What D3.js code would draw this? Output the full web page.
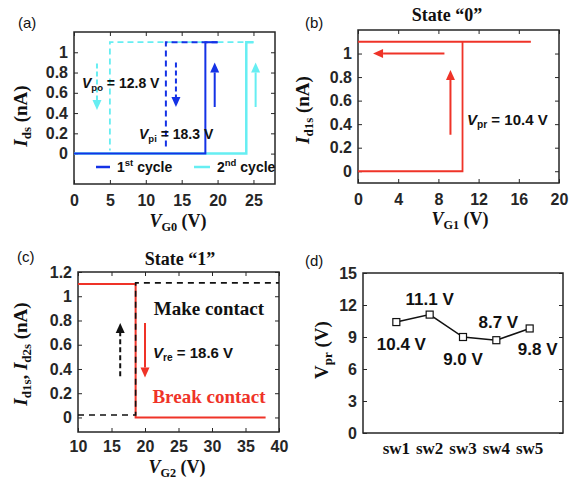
<!DOCTYPE html>
<html>
<head>
<meta charset="utf-8">
<script src="https://cdn.jsdelivr.net/npm/d3@7"></script>
<style>
body{margin:0;background:#fff}
</style>
</head>
<body>
<div id="chart"></div>
<script>
// ---- data ----
// (a) two pull-in / pull-out cycles
var aTicksX = [0,5,10,15,20,25];
var aTicksY = [0,0.2,0.4,0.6,0.8,1];
var cycle1Up = [[0,0],[18.3,0],[18.3,1.1],[20,1.1]];
var cycle1Down = [[20,1.1],[12.8,1.1],[12.8,0.05]];
var cycle2Up = [[0,0],[24,0],[24,1.1],[25,1.1]];
var cycle2Down = [[25,1.1],[5,1.1],[5,0.03]];

// (b) state "0"
var bTicksX = [0,4,8,12,16,20];
var bTicksY = [0,0.2,0.4,0.6,0.8,1];
var bRise = [[0,0],[10.4,0],[10.4,1.1]];
var bHold = [[0,1.1],[17.2,1.1]];

// (c) state "1"
var cTicksX = [10,15,20,25,30,35,40];
var cTicksY = [0,0.2,0.4,0.6,0.8,1,1.2];
var cBreak = [[10,1.1],[18.6,1.1],[18.6,0],[38,0]];
var cMake = [[10,0.02],[18.6,0.02],[18.6,1.11],[40,1.11]];

// (d) Vpr of five switches
var switches = ["sw1","sw2","sw3","sw4","sw5"];
var vpr = [10.4,11.1,9.0,8.7,9.8];
var dTicksY = [0,3,6,9,12,15];

var blue = "#1432e6", cyan = "#66eef2", red = "#ef3328", ink = "#262626";
var sans = "'Liberation Sans', Arial, sans-serif";
var serif = "'Liberation Serif', 'Times New Roman', serif";

var svg = d3.select("#chart").append("svg")
	.attr("width",584)
	.attr("height",485);

// text with sub/superscripts, parts = [{t, it, sub, sup}]
function rich(sel, parts, size) {
	var shift = 0;
	parts.forEach(function(p){
		var target = p.sub ? size*0.22 : (p.sup ? -size*0.4 : 0);
		var ts = sel.append("tspan").text(p.t).attr("dy", target - shift);
		shift = target;
		if (p.sub || p.sup) ts.style("font-size", (size*0.68)+"px");
		if (p.it) ts.style("font-style","italic");
	});
	return sel;
}

function label(x, y, parts, opt) {
	opt = opt || {};
	var size = opt.size || 14;
	var t = svg.append("text")
		.attr("x",x).attr("y",y)
		.style("font-family", opt.font || sans)
		.style("font-weight", opt.weight || "bold")
		.style("font-size", size+"px")
		.attr("fill", opt.color || "#111")
		.attr("text-anchor", opt.anchor || "start");
	if (opt.rotate) {
		t.attr("x",0).attr("y",0)
			.attr("transform","translate("+x+","+y+") rotate(-90)");
	}
	return rich(t, parts, size);
}

function panel(f, xDom, yDom, xTicks, yTicks, pad) {
	var x = d3.scaleLinear().domain(xDom).range([f.l, f.r]);
	var y = d3.scaleLinear().domain(yDom).range([f.b, f.t]);
	var g = svg.append("g");

	function styleAxis(a) {
		a.select(".domain").remove();
		a.selectAll("line").attr("stroke", ink);
		a.selectAll("text")
			.style("font-family", sans)
			.style("font-weight","bold")
			.style("font-size","16px")
			.attr("fill", ink);
	}
	if (xTicks) {
		var bx = g.append("g").attr("transform","translate(0,"+f.b+")")
			.call(d3.axisBottom(x).tickValues(xTicks).tickSize(-4).tickPadding(pad || 11).tickFormat(d3.format("")));
		styleAxis(bx);
		var tx = g.append("g").attr("transform","translate(0,"+f.t+")")
			.call(d3.axisTop(x).tickValues(xTicks).tickSize(-4).tickFormat(""));
		styleAxis(tx);
	}
	var ly = g.append("g").attr("transform","translate("+f.l+",0)")
		.call(d3.axisLeft(y).tickValues(yTicks).tickSize(-4).tickPadding(6).tickFormat(d3.format("")));
	styleAxis(ly);
	var ry = g.append("g").attr("transform","translate("+f.r+",0)")
		.call(d3.axisRight(y).tickValues(yTicks).tickSize(-4).tickFormat(""));
	styleAxis(ry);

	g.append("rect")
		.attr("x",f.l).attr("y",f.t)
		.attr("width",f.r-f.l).attr("height",f.b-f.t)
		.attr("fill","none").attr("stroke",ink).attr("stroke-width",1.5);

	var line = d3.line().x(function(d){ return x(d[0]); }).y(function(d){ return y(d[1]); });
	return {g:g, x:x, y:y, line:line};
}

function path(p, data, color, w, dash) {
	p.g.append("path")
		.datum(data)
		.attr("d", p.line)
		.attr("fill","none")
		.attr("stroke",color)
		.attr("stroke-width",w)
		.attr("stroke-dasharray", dash || null);
}

// arrow from (x1,y1) to (x2,y2) in data units, head at the end
function arrow(p, x1, y1, x2, y2, color, dash) {
	var px1 = p.x(x1), py1 = p.y(y1), px2 = p.x(x2), py2 = p.y(y2);
	var dx = px2-px1, dy = py2-py1, len = Math.sqrt(dx*dx+dy*dy);
	var ux = dx/len, uy = dy/len, hl = 10, hw = 4.5;
	var bx = px2-ux*hl, by = py2-uy*hl;
	p.g.append("line")
		.attr("x1",px1).attr("y1",py1).attr("x2",bx).attr("y2",by)
		.attr("stroke",color).attr("stroke-width",2)
		.attr("stroke-dasharray", dash || null);
	p.g.append("path")
		.attr("d","M"+px2+","+py2+"L"+(bx-uy*hw)+","+(by+ux*hw)+"L"+(bx+uy*hw)+","+(by-ux*hw)+"Z")
		.attr("fill",color);
}

// ---- (a) ----
var pa = panel({l:74,r:275,t:32,b:184}, [0,28], [-0.3,1.2], aTicksX, aTicksY);
path(pa, cycle2Down, cyan, 1.8, "6,4");
path(pa, cycle2Up, cyan, 2.5);
path(pa, cycle1Down, blue, 2, "6,4");
path(pa, cycle1Up, blue, 2);
arrow(pa, 3.2, 0.89, 3.2, 0.43, cyan, "5,3");
arrow(pa, 14.2, 0.9, 14.2, 0.46, blue, "5,3");
arrow(pa, 19.6, 0.46, 19.6, 0.9, blue);
arrow(pa, 25.3, 0.46, 25.3, 0.9, cyan);
label(82, 88, [{t:"V",it:true},{t:"po",sub:true},{t:" = 12.8 V"}], {size:14});
label(139, 139, [{t:"V",it:true},{t:"pi",sub:true},{t:" = 18.3 V"}], {size:14});
// legend
pa.g.append("line").attr("x1",96).attr("x2",110).attr("y1",167).attr("y2",167)
	.attr("stroke",blue).attr("stroke-width",2.5);
label(117, 172, [{t:"1"},{t:"st",sup:true},{t:" cycle"}], {size:14});
pa.g.append("line").attr("x1",194).attr("x2",210).attr("y1",167).attr("y2",167)
	.attr("stroke",cyan).attr("stroke-width",2.5);
label(217, 172, [{t:"2"},{t:"nd",sup:true},{t:" cycle"}], {size:14});
label(178, 227, [{t:"V",it:true},{t:"G0",sub:true},{t:" (V)"}], {font:serif,size:18,anchor:"middle"});
label(27, 116, [{t:"I",it:true},{t:"ds",sub:true},{t:" (nA)"}], {font:serif,size:19,anchor:"middle",rotate:true});
label(18, 28, [{t:"(a)"}], {weight:"normal",size:15});

// ---- (b) ----
var pb = panel({l:358,r:559,t:30,b:183}, [0,20], [-0.1,1.2], bTicksX, bTicksY);
path(pb, bHold, red, 1.8);
path(pb, bRise, red, 1.8);
arrow(pb, 8.6, 1, 1.5, 1, red);
arrow(pb, 9.2, 0.31, 9.2, 0.86, red);
label(467, 125, [{t:"V",it:true},{t:"pr",sub:true},{t:" = 10.4 V"}], {size:15});
label(460, 225, [{t:"V",it:true},{t:"G1",sub:true},{t:" (V)"}], {font:serif,size:18,anchor:"middle"});
label(309, 110, [{t:"I",it:true},{t:"d1s",sub:true},{t:" (nA)"}], {font:serif,size:19,anchor:"middle",rotate:true});
label(447, 21, [{t:"State \u201c0\u201d"}], {font:serif,size:18,anchor:"middle"});
label(305, 28, [{t:"(b)"}], {weight:"normal",size:15});

// ---- (c) ----
var pc = panel({l:78,r:279,t:272,b:432}, [10,40], [-0.12,1.2], cTicksX, cTicksY, 9);
path(pc, cBreak, red, 2);
path(pc, cMake, "#111", 1.6, "6,5");
arrow(pc, 16.3, 0.34, 16.3, 0.78, "#111", "5,3");
arrow(pc, 20, 0.78, 20, 0.33, red);
label(209, 315, [{t:"Make contact"}], {font:serif,size:19,anchor:"middle"});
label(209, 403, [{t:"Break contact"}], {font:serif,size:19,anchor:"middle",color:red});
label(153, 358, [{t:"V",it:true},{t:"re",sub:true},{t:" = 18.6 V"}], {size:15});
label(177, 473, [{t:"V",it:true},{t:"G2",sub:true},{t:" (V)"}], {font:serif,size:18,anchor:"middle"});
label(27, 354, [{t:"I",it:true},{t:"d1s",sub:true},{t:", "},{t:"I",it:true},{t:"d2s",sub:true},{t:" (nA)"}], {font:serif,size:19,anchor:"middle",rotate:true});
label(180, 265, [{t:"State \u201c1\u201d"}], {font:serif,size:18,anchor:"middle"});
label(17, 262, [{t:"(c)"}], {weight:"normal",size:15});

// ---- (d) ----
var pd = panel({l:363,r:563,t:273,b:433}, [0,6], [0,15], null, dTicksY);
var xd = d3.scalePoint().domain(switches).range([pd.x(1), pd.x(5)]);
pd.g.selectAll(".swl").data(switches).enter().append("text")
	.attr("class","swl")
	.attr("x",function(d){ return xd(d); })
	.attr("y",454)
	.attr("text-anchor","middle")
	.style("font-family",serif).style("font-weight","bold").style("font-size","17px")
	.attr("fill","#111")
	.text(function(d){ return d; });
var dLine = d3.line().x(function(d,i){ return xd(switches[i]); }).y(function(d){ return pd.y(d); });
pd.g.append("path").datum(vpr).attr("d",dLine)
	.attr("fill","none").attr("stroke","#111").attr("stroke-width",1.5);
pd.g.selectAll(".mk").data(vpr).enter().append("rect")
	.attr("class","mk")
	.attr("x",function(d,i){ return xd(switches[i])-3.5; })
	.attr("y",function(d){ return pd.y(d)-3.5; })
	.attr("width",7).attr("height",7)
	.attr("fill","#fff").attr("stroke","#111").attr("stroke-width",1.2);
// value labels: offset from each point (dx, dy in px)
var dLabelOffset = [[5,28],[0,-10],[0,28],[2,-12],[8,27]];
vpr.forEach(function(v,i){
	label(xd(switches[i])+dLabelOffset[i][0], pd.y(v)+dLabelOffset[i][1],
		[{t:d3.format(".1f")(v)+" V"}], {size:17,anchor:"middle"});
});
label(328, 350, [{t:"V"},{t:"pr",sub:true},{t:" (V)"}], {font:serif,size:19,anchor:"middle",rotate:true});
label(305, 266, [{t:"(d)"}], {weight:"normal",size:15});
</script>
</body>
</html>
